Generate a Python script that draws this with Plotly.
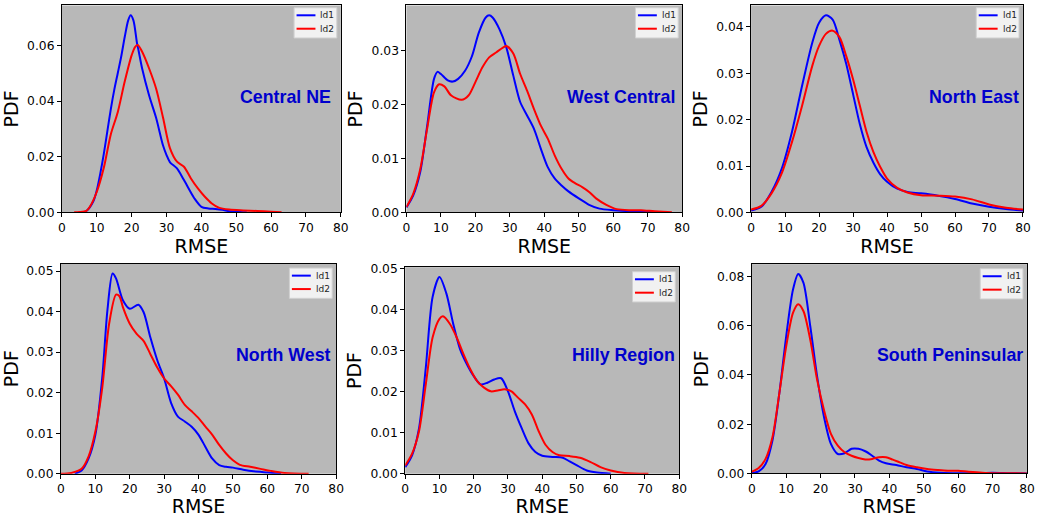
import plotly.graph_objects as go

# ---- KDE curves of RMSE per region (x = RMSE, y = density) ----
central_ne_ld1_x = [5, 7, 9, 10, 11, 12, 13, 14, 15, 16, 17, 18, 19, 19.7, 20.5, 21.5, 22, 23, 25, 27, 29, 30, 31, 33, 35, 38, 40, 42, 44, 46, 48, 50, 53]
central_ne_ld1_y = [0, 0.0005, 0.004, 0.008, 0.014, 0.021, 0.029, 0.037, 0.044, 0.050, 0.056, 0.063, 0.069, 0.0708, 0.069, 0.061, 0.058, 0.0517, 0.042, 0.034, 0.024, 0.0206, 0.018, 0.0158, 0.0116, 0.005, 0.002, 0.0014, 0.0012, 0.0009, 0.0004, 0.0002, 0]
central_ne_ld2_x = [3.5, 5, 7, 8, 10, 12, 14, 16, 18, 20, 21, 21.8, 23, 25, 27, 29, 31, 33, 35, 37, 39, 41, 43, 45, 48, 52, 56, 60, 63]
central_ne_ld2_y = [0, 0.0001, 0.0005, 0.002, 0.0074, 0.016, 0.028, 0.036, 0.047, 0.0565, 0.0595, 0.0601, 0.0577, 0.0517, 0.0445, 0.034, 0.023, 0.0182, 0.0164, 0.0122, 0.0086, 0.0056, 0.0032, 0.0017, 0.001, 0.0007, 0.0005, 0.0002, 0]

west_central_ld1_x = [0, 2, 4, 6, 8, 9, 10, 12, 13.5, 15, 17, 19, 21, 23, 24, 25, 27, 29, 31, 33, 35, 37, 39, 41, 43, 45, 47, 50, 53, 56, 60, 65, 70, 75]
west_central_ld1_y = [0.0009, 0.0032, 0.0075, 0.016, 0.0248, 0.0261, 0.0257, 0.0245, 0.0243, 0.0248, 0.0263, 0.029, 0.0334, 0.0362, 0.0366, 0.0362, 0.034, 0.0306, 0.0254, 0.0205, 0.018, 0.0155, 0.0118, 0.0084, 0.0063, 0.005, 0.0039, 0.0026, 0.0014, 0.0007, 0.0004, 0.0002, 0.0001, 0]
west_central_ld2_x = [0, 2, 4, 6, 8, 9.5, 11, 13, 16, 18, 20, 22, 24, 26, 28, 29, 31, 33, 35, 37, 39, 41, 43, 45, 47, 49, 51, 53, 55, 58, 61, 65, 68, 72, 77]
west_central_ld2_y = [0.001, 0.0035, 0.008, 0.0155, 0.0223, 0.0238, 0.0234, 0.0217, 0.0209, 0.0217, 0.0242, 0.0269, 0.0288, 0.0297, 0.0306, 0.0309, 0.0295, 0.0257, 0.0226, 0.0192, 0.0161, 0.0137, 0.0106, 0.0081, 0.0063, 0.0054, 0.0047, 0.0038, 0.0026, 0.0014, 0.0006, 0.0004, 0.0004, 0.0002, 0]

north_east_ld1_x = [0, 3, 6, 9, 12, 15, 18, 20, 22, 24, 26, 28, 30, 32, 34, 36, 38, 40, 43, 46, 50, 55, 60, 65, 70, 75, 80]
north_east_ld1_y = [0.0004, 0.0012, 0.0044, 0.0094, 0.0173, 0.0273, 0.0366, 0.0409, 0.0425, 0.0416, 0.0372, 0.032, 0.0255, 0.019, 0.014, 0.0107, 0.0082, 0.0066, 0.0051, 0.0044, 0.0041, 0.0036, 0.0029, 0.0019, 0.0012, 0.0007, 0.0004]
north_east_ld2_x = [0, 3, 6, 9, 12, 15, 18, 20, 22, 24, 26, 28, 30, 32, 34, 36, 38, 40, 43, 46, 50, 55, 60, 65, 70, 75, 80]
north_east_ld2_y = [0.0006, 0.0014, 0.0041, 0.0084, 0.0151, 0.023, 0.0316, 0.0359, 0.0385, 0.0392, 0.0378, 0.0337, 0.0287, 0.023, 0.0173, 0.013, 0.0098, 0.0073, 0.0053, 0.0043, 0.0037, 0.0036, 0.0034, 0.0028, 0.0017, 0.001, 0.0006]

north_west_ld1_x = [4, 6, 8, 10, 12, 13.5, 15, 16, 18, 20, 22.5, 24, 26, 28, 30, 32, 34, 36, 38, 40, 42, 44, 46, 48, 50, 53, 56, 60, 64]
north_west_ld1_y = [0, 0.0008, 0.0037, 0.0096, 0.0237, 0.0403, 0.0494, 0.0482, 0.0428, 0.0407, 0.0417, 0.0399, 0.0336, 0.028, 0.0235, 0.0175, 0.0141, 0.0129, 0.0116, 0.0096, 0.0066, 0.0037, 0.0021, 0.0017, 0.0015, 0.001, 0.0006, 0.0003, 0]
north_west_ld2_x = [0, 3, 6, 8, 10, 12, 14, 16, 17, 18, 20, 22, 24, 26, 28, 30, 32, 34, 36, 38, 40, 42, 44, 46, 48, 50, 52, 55, 58, 61, 65, 72]
north_west_ld2_y = [0, 0.0002, 0.0012, 0.0042, 0.0104, 0.0212, 0.037, 0.0442, 0.0438, 0.0411, 0.037, 0.0345, 0.0328, 0.0295, 0.0262, 0.0235, 0.0216, 0.0195, 0.017, 0.0154, 0.0137, 0.0116, 0.0096, 0.0071, 0.005, 0.0033, 0.0022, 0.0017, 0.0012, 0.0007, 0.0002, 0]

hilly_ld1_x = [0, 2, 4, 6, 8, 10, 12, 14, 16, 18, 20, 22, 24, 26, 28, 30, 32, 34, 36, 38, 40, 43, 46, 48, 50, 53, 56, 60]
hilly_ld1_y = [0.0016, 0.0045, 0.011, 0.0259, 0.0432, 0.048, 0.044, 0.0366, 0.0304, 0.0267, 0.0238, 0.0218, 0.0222, 0.023, 0.0233, 0.0201, 0.0152, 0.0111, 0.0074, 0.0053, 0.0044, 0.0041, 0.0039, 0.003, 0.0021, 0.0008, 0.0003, 0]
hilly_ld2_x = [0, 2, 4, 6, 8, 10, 11, 13, 15, 17, 19, 21, 23, 25, 27, 29, 31, 33, 35, 37, 39, 41, 43, 45, 48, 51, 54, 57, 60, 64, 71]
hilly_ld2_y = [0.002, 0.0049, 0.0103, 0.0218, 0.0333, 0.0378, 0.0384, 0.0366, 0.0333, 0.0292, 0.0255, 0.0226, 0.021, 0.0201, 0.0203, 0.0206, 0.0201, 0.0185, 0.0169, 0.0144, 0.0103, 0.007, 0.0053, 0.0045, 0.0043, 0.0039, 0.0029, 0.0016, 0.0008, 0.0002, 0]

south_pen_ld1_x = [0, 2, 4, 6, 8, 10, 12, 13.5, 15, 17, 19, 21, 23, 25, 27, 29, 31, 33, 35, 37, 39, 42, 45, 48, 51, 55, 60, 65, 70, 75, 80]
south_pen_ld1_y = [0.0001, 0.0008, 0.0038, 0.0134, 0.0325, 0.0557, 0.0748, 0.081, 0.0775, 0.0598, 0.0393, 0.0229, 0.012, 0.0079, 0.0082, 0.010, 0.010, 0.009, 0.0072, 0.0052, 0.0041, 0.0034, 0.0025, 0.0018, 0.0008, 0.0003, 0.0001, 0.0001, 0.0003, 0.0001, 0]
south_pen_ld2_x = [0, 2, 4, 6, 8, 10, 12, 13.5, 15, 17, 19, 21, 23, 25, 27, 29, 31, 33, 35, 37, 39, 41, 43, 45, 48, 51, 54, 57, 60, 63, 67, 72, 80]
south_pen_ld2_y = [0.0007, 0.0022, 0.0059, 0.0147, 0.0325, 0.0516, 0.0653, 0.0687, 0.066, 0.0543, 0.038, 0.0257, 0.0161, 0.0113, 0.0086, 0.0072, 0.0063, 0.0057, 0.0059, 0.0066, 0.0066, 0.0056, 0.0045, 0.0034, 0.0025, 0.0018, 0.0014, 0.0011, 0.0011, 0.0007, 0.0003, 0.0001, 0]

region_names = ["Central NE", "West Central", "North East", "North West", "Hilly Region", "South Peninsular"]
series_names = ["ld1", "ld2"]
series_colors = ["#0000ff", "#ff0000"]
y_tick_steps = [0.02, 0.01, 0.01, 0.01, 0.01, 0.02]
x_ticks = [0, 10, 20, 30, 40, 50, 60, 70, 80]

curves = [
    ((central_ne_ld1_x, central_ne_ld1_y), (central_ne_ld2_x, central_ne_ld2_y)),
    ((west_central_ld1_x, west_central_ld1_y), (west_central_ld2_x, west_central_ld2_y)),
    ((north_east_ld1_x, north_east_ld1_y), (north_east_ld2_x, north_east_ld2_y)),
    ((north_west_ld1_x, north_west_ld1_y), (north_west_ld2_x, north_west_ld2_y)),
    ((hilly_ld1_x, hilly_ld1_y), (hilly_ld2_x, hilly_ld2_y)),
    ((south_pen_ld1_x, south_pen_ld1_y), (south_pen_ld2_x, south_pen_ld2_y)),
]

# ---- target geometry (pixels of the finished picture): left, right, top, bottom ----
W, H = 1039, 517
boxes = [
    (60.3, 340.7, 6.7, 214.0),
    (406.7, 684.0, 6.7, 214.0),
    (753.3, 1026.7, 6.7, 214.0),
    (59.3, 336.0, 264.7, 473.0),
    (405.5, 681.0, 268.3, 473.0),
    (754.0, 1030.7, 265.3, 472.7),
]
label_pos = [(331.7, 99.2), (677.7, 100.0), (1023.3, 100.0),
             (331.7, 355.3), (678.0, 355.3), (1028.0, 355.7)]

# the captured page comes out slightly inset/scaled; map target pixels to page pixels
SX, OX = 0.994, 2.0
SY, OY = 0.968, 8.5


def page_x(xp):
    return (xp - OX) / SX


def page_y(yp):
    return max(0.5, (yp - OY) / SY)


def px(xp):
    return page_x(xp) / W


def py(yp):
    return 1 - page_y(yp) / H


TICK_FONT = dict(family="DejaVu Sans", size=12.3, color="black")
TITLE_FONT = dict(family="DejaVu Sans", size=19, color="black")

fig = go.Figure()
layout = dict(
    width=W, height=H,
    margin=dict(l=0, r=0, t=0, b=0),
    paper_bgcolor="white",
    plot_bgcolor="#b8b8b8",
    showlegend=False,
    shapes=[], annotations=[],
)

for i, (box, pair) in enumerate(zip(boxes, curves), start=1):
    x0, x1, t, b = box
    xa, ya = f"x{i}", f"y{i}"
    ymax = max(max(pair[0][1]), max(pair[1][1])) * 1.05
    for (xs, ys), name, col in zip(pair, series_names, series_colors):
        fig.add_trace(go.Scatter(
            x=xs, y=ys, mode="lines", name=name,
            line=dict(color=col, width=2, shape="spline", smoothing=0.8),
            xaxis=xa, yaxis=ya, showlegend=False,
        ))
    common = dict(showline=True, mirror=True, linecolor="black", linewidth=1,
                  ticks="outside", ticklen=4, tickwidth=1, tickcolor="black",
                  showgrid=False, zeroline=False, tickfont=TICK_FONT)
    layout[f"xaxis{i}"] = dict(
        domain=[px(x0), px(x1)], anchor=ya, range=[0, 80],
        tickvals=x_ticks, ticktext=[str(v) for v in x_ticks],
        title=dict(text="RMSE", font=TITLE_FONT, standoff=4), **common)
    layout[f"yaxis{i}"] = dict(
        domain=[py(b), py(t)], anchor=xa, range=[0, ymax],
        dtick=y_tick_steps[i - 1], tick0=0, tickformat=".2f",
        title=dict(text="PDF", font=TITLE_FONT, standoff=3), **common)

    # region label
    lx, ly = label_pos[i - 1]
    layout["annotations"].append(dict(
        xref="paper", yref="paper", x=px(lx), y=py(ly),
        xanchor="right", yanchor="middle", showarrow=False, borderpad=0,
        text=f"<b>{region_names[i - 1]}</b>",
        font=dict(family="Liberation Sans, Arial", size=17.8, color="#0000cd"),
    ))

    # legend box in the top-right corner
    lr = x1 - 4
    ll = lr - 43
    lt = t + 4.5
    lb = lt + 30
    layout["shapes"].append(dict(
        type="rect", xref="paper", yref="paper",
        x0=px(ll), x1=px(lr), y0=py(lb), y1=py(lt),
        line=dict(color="#d0d0d0", width=1), fillcolor="rgba(255,255,255,0.8)",
        layer="above",
    ))
    for k, (name, col) in enumerate(zip(series_names, series_colors)):
        yy = lt + 7.5 + k * 13.3
        layout["shapes"].append(dict(
            type="line", xref="paper", yref="paper",
            x0=px(ll + 2.5), x1=px(ll + 21.5), y0=py(yy), y1=py(yy),
            line=dict(color=col, width=2), layer="above",
        ))
        layout["annotations"].append(dict(
            xref="paper", yref="paper", x=px(ll + 25.5), y=py(yy),
            xanchor="left", yanchor="middle", showarrow=False, borderpad=0,
            text=name, font=dict(family="DejaVu Sans", size=9, color="#222222"),
        ))

fig.update_layout(**layout)
fig.write_html("out.html")
